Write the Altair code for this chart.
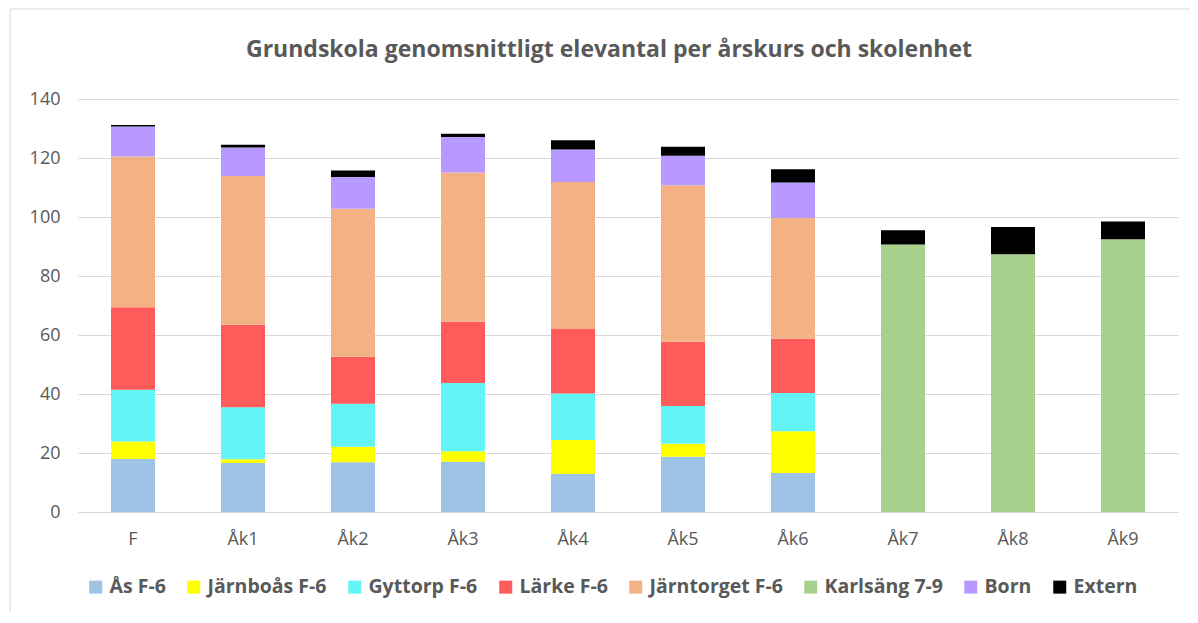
import altair as alt
import pandas as pd

grades = ["F", "Åk1", "Åk2", "Åk3", "Åk4", "Åk5", "Åk6", "Åk7", "Åk8", "Åk9"]
series_names = ["Ås F-6", "Järnboås F-6", "Gyttorp F-6", "Lärke F-6",
                "Järntorget F-6", "Karlsäng 7-9", "Born", "Extern"]
series_colors = ["#9DC3E6", "#FFFF00", "#63F4F5", "#FF5B5B",
                 "#F4B183", "#A9D18E", "#B899FF", "#000000"]

as_f6 = [18.0, 16.6, 16.9, 17.0, 12.9, 18.7, 13.2, 0, 0, 0]
jarnboas_f6 = [5.9, 1.3, 5.2, 3.6, 11.5, 4.4, 14.2, 0, 0, 0]
gyttorp_f6 = [17.5, 17.6, 14.6, 23.1, 15.8, 12.8, 12.9, 0, 0, 0]
larke_f6 = [28.0, 28.0, 15.9, 20.8, 21.8, 21.8, 18.4, 0, 0, 0]
jarntorget_f6 = [51.1, 50.4, 50.2, 50.6, 49.9, 53.1, 41.0, 0, 0, 0]
karlsang_79 = [0, 0, 0, 0, 0, 0, 0, 90.7, 87.4, 92.5]
born = [10.2, 9.7, 10.8, 12.0, 11.0, 10.0, 12.0, 0, 0, 0]
extern = [0.5, 0.9, 2.2, 1.1, 3.1, 3.0, 4.5, 4.8, 9.2, 6.0]

y_ticks = [0, 20, 40, 60, 80, 100, 120, 140]

all_series = [as_f6, jarnboas_f6, gyttorp_f6, larke_f6,
              jarntorget_f6, karlsang_79, born, extern]

rows = []
for si, (name, vals) in enumerate(zip(series_names, all_series)):
    for g, v in zip(grades, vals):
        if v > 0:
            rows.append({"grade": g, "series": name, "value": v, "order": si})
df = pd.DataFrame(rows)

FONT = "Open Sans"
GRAY = "#595959"

bars = alt.Chart(df).mark_bar().encode(
    x=alt.X("grade:N", sort=grades, title=None,
            scale=alt.Scale(paddingInner=0.6, paddingOuter=0.3),
            axis=alt.Axis(labelAngle=0, ticks=False, domain=False,
                          labelFont=FONT, labelFontSize=18, labelColor=GRAY,
                          labelPadding=18)),
    y=alt.Y("value:Q", stack="zero", title=None,
            scale=alt.Scale(domain=[0, 140], nice=False),
            axis=alt.Axis(values=y_ticks, ticks=False, domain=False,
                          labelFont=FONT, labelFontSize=18, labelColor=GRAY,
                          labelPadding=18, gridColor="#D9D9D9", gridWidth=1)),
    color=alt.Color("series:N", sort=series_names,
                    scale=alt.Scale(domain=series_names, range=series_colors),
                    legend=alt.Legend(title=None, orient="none", direction="horizontal",
                                      legendX=8, legendY=478,
                                      symbolType="square", symbolSize=169,
                                      symbolStrokeWidth=0,
                                      labelFont=FONT, labelFontSize=19.5,
                                      labelFontWeight="bold", labelColor=GRAY,
                                      labelOffset=4, columnPadding=18,
                                      labelLimit=300)),
    order=alt.Order("order:Q", sort="ascending"),
)

frame_data = alt.Data(values=[{"k": 1}])
frame_left = alt.Chart(frame_data).mark_rule(color="#D9D9D9", strokeWidth=1).encode(
    x=alt.value(-68), y=alt.value(-90), y2=alt.value(520))
frame_top = alt.Chart(frame_data).mark_rule(color="#D9D9D9", strokeWidth=1).encode(
    x=alt.value(-68), x2=alt.value(1115), y=alt.value(-90))

chart = alt.layer(frame_left, frame_top, bars).properties(
    width=1100, height=413,
    title=alt.TitleParams("Grundskola genomsnittligt elevantal per årskurs och skolenhet",
                          font=FONT, fontSize=23, fontWeight="bold", color=GRAY,
                          anchor="middle", dx=-19, offset=-53),
    padding={"left": 70, "top": 91, "right": 12, "bottom": 100},
    autosize=alt.AutoSizeParams(type="none"),
).configure_view(stroke=None)

chart.save("out.html", embed_options={"renderer": "svg", "actions": False})
